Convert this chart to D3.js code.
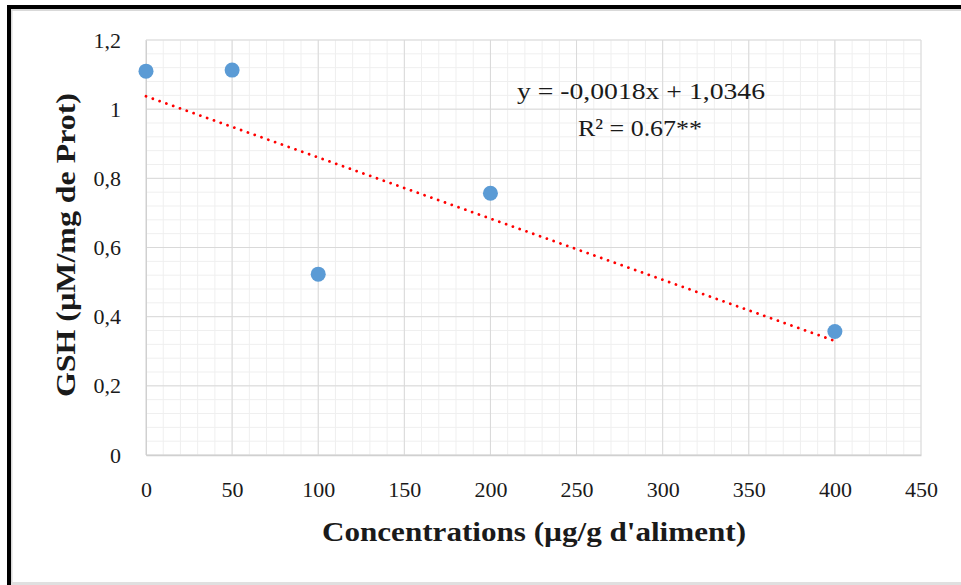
<!DOCTYPE html>
<html>
<head>
<meta charset="utf-8">
<script src="https://cdn.jsdelivr.net/npm/d3@7"></script>
<style>
  html, body { margin: 0; padding: 0; background: #fff; }
  svg { display: block; }
  text { font-family: "Liberation Serif", "Times New Roman", serif; fill: #1a1a1a; }
</style>
</head>
<body>
<svg id="chart" width="961" height="585"></svg>
<script>
// ---- data ----
const concentrations = [0, 50, 100, 200, 400];
const gshValues = [1.11, 1.113, 0.523, 0.757, 0.357];
const xTickValues = [0, 50, 100, 150, 200, 250, 300, 350, 400, 450];
const yTickValues = [0, 0.2, 0.4, 0.6, 0.8, 1.0, 1.2];
const yTickLabels = ["0", "0,2", "0,4", "0,6", "0,8", "1", "1,2"];
const xTitle = "Concentrations (\u00b5g/g d'aliment)";
const yTitle = "GSH (\u00b5M/mg de Prot)";
const equationText = "y = -0,0018x + 1,0346";
const r2Text = "R\u00b2 = 0.67**";

const svg = d3.select("#chart");

// frame
svg.append("rect").attr("x", 0).attr("y", 0).attr("width", 961).attr("height", 585).attr("fill", "#fff");
svg.append("rect").attr("x", 11).attr("y", 9).attr("width", 950).attr("height", 2).attr("fill", "#d9d9d9");
svg.append("rect").attr("x", 11).attr("y", 9).attr("width", 1.5).attr("height", 576).attr("fill", "#d9d9d9");
svg.append("rect").attr("x", 11).attr("y", 582).attr("width", 950).attr("height", 3).attr("fill", "#e0e0e0");
svg.append("rect").attr("x", 7).attr("y", 5).attr("width", 954).attr("height", 4).attr("fill", "#000");
svg.append("rect").attr("x", 7).attr("y", 5).attr("width", 4).attr("height", 580).attr("fill", "#000");

const x = d3.scaleLinear().domain([0, 450]).range([146, 921]);
const y = d3.scaleLinear().domain([0, 1.2]).range([455, 40]);

// minor grid
const minorX = d3.range(0, 451, 10);
const minorY = d3.range(0, 1.2001, 0.04);
const grid = svg.append("g");
grid.selectAll(".mx").data(minorX).enter().append("line")
  .attr("x1", d => x(d)).attr("x2", d => x(d)).attr("y1", y(0)).attr("y2", y(1.2))
  .attr("stroke", "#efefef").attr("stroke-width", 1);
grid.selectAll(".my").data(minorY).enter().append("line")
  .attr("x1", x(0)).attr("x2", x(450)).attr("y1", d => y(d)).attr("y2", d => y(d))
  .attr("stroke", "#efefef").attr("stroke-width", 1);
// major grid
grid.selectAll(".Mx").data(xTickValues).enter().append("line")
  .attr("x1", d => x(d)).attr("x2", d => x(d)).attr("y1", y(0)).attr("y2", y(1.2))
  .attr("stroke", "#d9d9d9").attr("stroke-width", 1);
grid.selectAll(".My").data(yTickValues).enter().append("line")
  .attr("x1", x(0)).attr("x2", x(450)).attr("y1", d => y(d)).attr("y2", d => y(d))
  .attr("stroke", "#d9d9d9").attr("stroke-width", 1);

// axes
const xAxis = d3.axisBottom(x).tickValues(xTickValues).tickSize(0).tickPadding(26).tickFormat(d3.format("d"));
const gx = svg.append("g").attr("transform", `translate(0,${y(0)})`).call(xAxis);
gx.select(".domain").attr("stroke", "#d0d0d0").attr("stroke-width", 1.5);
gx.selectAll("text").attr("font-size", 22).attr("font-family", "Liberation Serif").attr("fill", "#1a1a1a");

const yAxis = d3.axisLeft(y).tickValues(yTickValues).tickSize(0).tickPadding(25)
  .tickFormat((d, i) => yTickLabels[i]);
const gy = svg.append("g").attr("transform", `translate(${x(0)},0)`).call(yAxis);
gy.select(".domain").attr("stroke", "#d0d0d0").attr("stroke-width", 1);
gy.selectAll("text").attr("font-size", 22).attr("font-family", "Liberation Serif").attr("fill", "#1a1a1a");

// linear regression from data
const n = concentrations.length;
const mx = d3.mean(concentrations), my = d3.mean(gshValues);
let sxy = 0, sxx = 0;
for (let i = 0; i < n; i++) {
  sxy += (concentrations[i] - mx) * (gshValues[i] - my);
  sxx += (concentrations[i] - mx) ** 2;
}
const slope = sxy / sxx, intercept = my - slope * mx;
const xMin = d3.min(concentrations), xMax = d3.max(concentrations);
const trend = [[xMin, intercept + slope * xMin], [xMax, intercept + slope * xMax]];
svg.append("path")
  .datum(trend)
  .attr("d", d3.line().x(d => x(d[0])).y(d => y(d[1])))
  .attr("fill", "none").attr("stroke", "#ff0000").attr("stroke-width", 2.8)
  .attr("stroke-linecap", "round").attr("stroke-dasharray", "0.01 7.2");

// points
svg.selectAll(".pt").data(concentrations).enter().append("circle")
  .attr("cx", d => x(d)).attr("cy", (d, i) => y(gshValues[i])).attr("r", 7.5)
  .attr("fill", "#5b9bd5");

// equation
svg.append("text").attr("x", 641).attr("y", 99).attr("text-anchor", "middle")
  .attr("font-size", 24).attr("textLength", 248).attr("lengthAdjust", "spacingAndGlyphs")
  .text(equationText);
svg.append("text").attr("x", 640).attr("y", 136).attr("text-anchor", "middle")
  .attr("font-size", 24).attr("textLength", 124).attr("lengthAdjust", "spacingAndGlyphs")
  .text(r2Text);

// axis titles
svg.append("text").attr("x", 534).attr("y", 541).attr("text-anchor", "middle")
  .attr("font-size", 27).attr("font-weight", "bold")
  .attr("textLength", 424).attr("lengthAdjust", "spacingAndGlyphs")
  .text(xTitle);
svg.append("text").attr("transform", "translate(75,245) rotate(-90)").attr("text-anchor", "middle")
  .attr("font-size", 27).attr("font-weight", "bold")
  .attr("textLength", 304).attr("lengthAdjust", "spacingAndGlyphs")
  .text(yTitle);
</script>
</body>
</html>
